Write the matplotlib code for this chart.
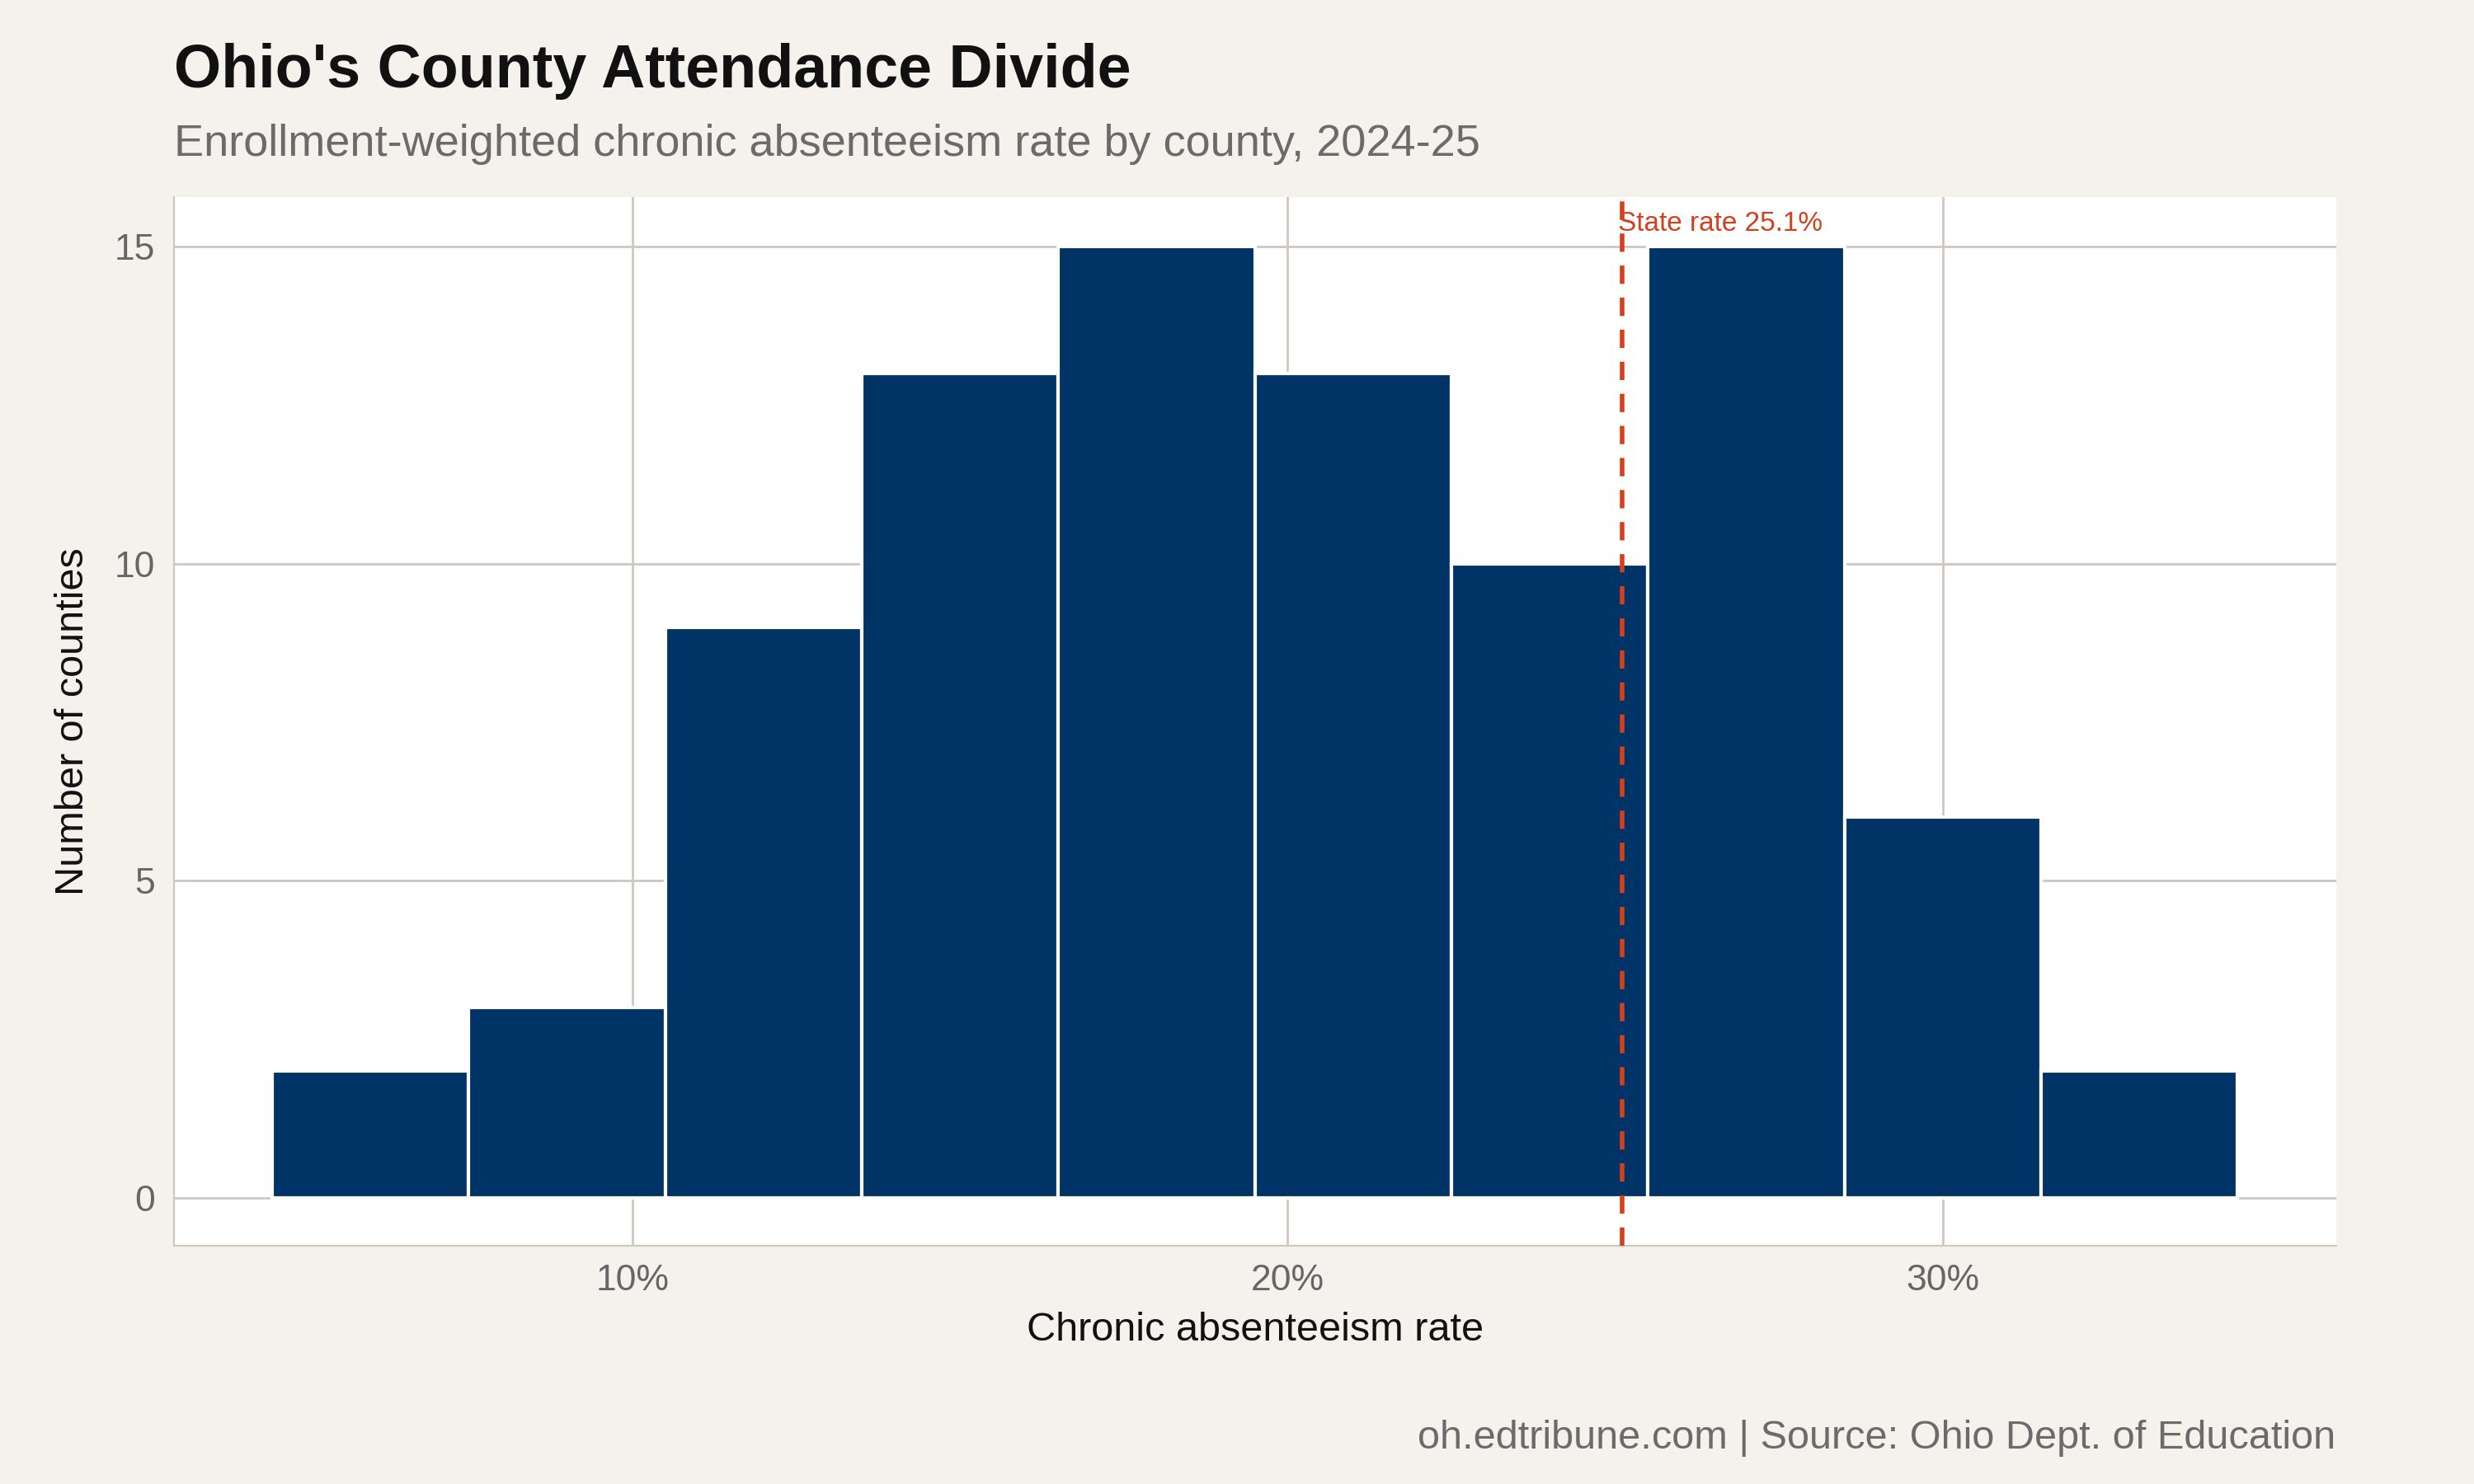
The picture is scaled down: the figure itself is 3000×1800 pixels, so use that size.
import numpy as np
import matplotlib.pyplot as plt

plt.rcParams['font.family'] = ['Liberation Sans', 'DejaVu Sans']

# histogram bins (percent) and county counts
bin_edges = [4.5, 7.5, 10.5, 13.5, 16.5, 19.5, 22.5, 25.5, 28.5, 31.5, 34.5]
counts = [2, 3, 9, 13, 15, 13, 10, 15, 6, 2]
state_rate = 25.1

bg = "#F5F2ED"
navy = "#003366"
grid = "#CFC8BF"

fig = plt.figure(figsize=(15, 9), dpi=200, facecolor=bg)
ax = fig.add_axes([0.0702, 0.1605, 0.874, 0.7065])
ax.set_facecolor("white")

widths = np.diff(bin_edges)
ax.bar(bin_edges[:-1], counts, width=widths, align="edge",
       color=navy, edgecolor="white", linewidth=1.5, zorder=2)

ax.axvline(state_rate, color="#D2401E", linestyle=(0, (4, 3)), linewidth=2, zorder=3)
ax.text(state_rate + 1.5, 15.15, f"State rate {state_rate}%", color="#D2401E",
        fontsize=12, ha="center", va="bottom", zorder=4)

ax.set_xlim(3.0, 36.0)
ax.set_ylim(-0.75, 15.77)
ax.set_xticks([10, 20, 30])
ax.set_xticklabels(["10%", "20%", "30%"])
ax.set_yticks([0, 5, 10, 15])
ax.grid(True, color=grid, linewidth=1, zorder=0)
ax.set_axisbelow(True)

for s in ["top", "right"]:
    ax.spines[s].set_visible(False)
for s in ["left", "bottom"]:
    ax.spines[s].set_color(grid)
ax.tick_params(colors="#666666", labelsize=16, length=0, pad=8)

ax.set_xlabel("Chronic absenteeism rate", fontsize=17.5, color="#111111", labelpad=6)
ax.set_ylabel("Number of counties", fontsize=17.5, color="#111111", labelpad=10)

fig.text(0.0702, 0.952, "Ohio's County Attendance Divide", fontsize=26.5,
         fontweight="bold", color="#111111", va="center")
fig.text(0.0702, 0.903, "Enrollment-weighted chronic absenteeism rate by county, 2024-25",
         fontsize=19.5, color="#6B6B6B", va="center")
fig.text(0.944, 0.031, "oh.edtribune.com | Source: Ohio Dept. of Education",
         fontsize=17.5, color="#6B6B6B", ha="right", va="center")

fig.savefig("out.png", dpi=200, facecolor=bg)
